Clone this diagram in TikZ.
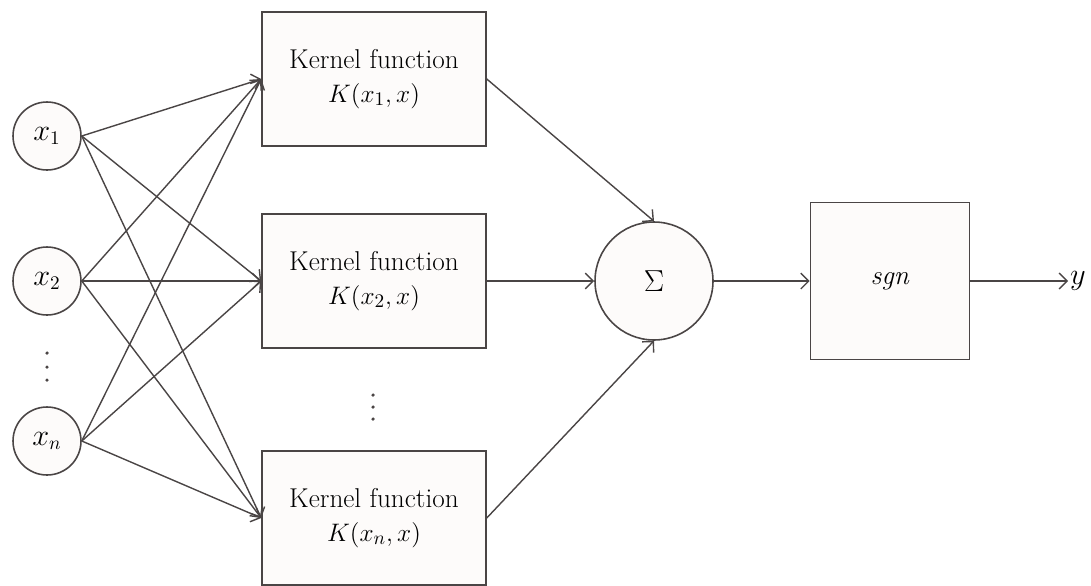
\documentclass[tikz,border=0pt]{standalone}
\usepackage{tikz}
\usetikzlibrary{arrows.meta, positioning, shapes}
\definecolor{linegray}{HTML}{4A4545}
\definecolor{paper}{HTML}{FDFBFA}

\begin{document}
\begin{tikzpicture}[x=0.02cm, y=-0.02cm,
  inode/.style={circle, draw=linegray, line width=0.9pt, fill=paper, minimum size=1.36cm, inner sep=0pt, font=\fontsize{16}{19}\selectfont},
  kbox/.style={rectangle, draw=linegray, line width=0.9pt, fill=paper, minimum width=4.48cm, minimum height=2.68cm, align=center, font=\fontsize{15.5}{19}\selectfont},
  conn/.style={draw=linegray, line width=0.8pt, -{Straight Barb[length=4.5pt, width=9pt]}}]
  \useasboundingbox (0,0) rectangle (1091,585);

  % Inputs
  \node[inode] (x1) at (47,136) {$x_1$};
  \node[inode] (x2) at (47,281) {$x_2$};
  \node[inode] (xn) at (47,441) {$x_n$};
  \foreach \d in {353,367,380}
    \fill[linegray] (47,\d) circle (1pt);

  % Kernel functions
  \node[kbox] (k1) at (374,79) {Kernel function\\$K(x_1, x)$};
  \node[kbox] (k2) at (374,281) {Kernel function\\$K(x_2, x)$};
  \node[kbox] (kn) at (374,518) {Kernel function\\$K(x_n, x)$};
  \foreach \d in {395,407,419}
    \fill[linegray] (373,\d) circle (1pt);

  % Sum and sign
  \node[circle, draw=linegray, line width=0.9pt, fill=paper, minimum size=2.36cm, inner sep=0pt, font=\fontsize{16}{19}\selectfont] (sum) at (654,281) {$\Sigma$};
  \node[rectangle, draw=linegray, line width=0.9pt, fill=paper, minimum width=3.18cm, minimum height=3.14cm, font=\fontsize{15.5}{19}\selectfont] (sgn) at (890,281) {\textit{sgn}};
  \coordinate (out) at (1068,281);
  \node[right, inner sep=1pt, font=\fontsize{16}{19}\selectfont] (y) at (out) {$y$};

  % Connections
  \foreach \i in {x1,x2,xn}
    \foreach \k in {k1,k2,kn}
      \draw[conn] (\i.east) -- (\k.west);
  \draw[conn] (k1.east) -- (sum.north);
  \draw[conn] (k2.east) -- (sum.west);
  \draw[conn] (kn.east) -- (sum.south);
  \draw[conn] (sum.east) -- (sgn.west);
  \draw[conn] (sgn.east) -- (out);
\end{tikzpicture}
\end{document}
